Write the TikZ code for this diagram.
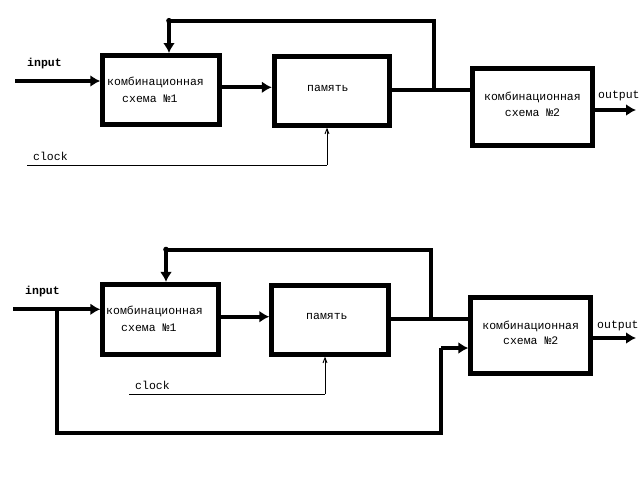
\documentclass[tikz,border=0pt]{standalone}
\usepackage{fontspec}
\setmonofont{Liberation Mono}
\usetikzlibrary{arrows.meta,calc}
\begin{document}
\begin{tikzpicture}[x=1pt,y=-1pt,
  blk/.style={draw,line width=5pt,rectangle,inner sep=0pt},
  wire/.style={line width=4pt},
  thk/.style={wire,-{Latex[length=10pt,width=12pt]}},
  clk/.style={line width=0.9pt,-{Straight Barb[length=5pt,width=4pt]}},
  txt/.style={font=\ttfamily\fontsize{11.5}{12}\selectfont,inner sep=0pt,anchor=west},
  lbl/.style={txt,font=\ttfamily\bfseries\fontsize{11.5}{12}\selectfont}]
\useasboundingbox (0,0) rectangle (640,480);

% ---------- top diagram ----------
\node[blk,minimum width=116.5pt,minimum height=69pt] (a1) at (161,90) {};
\node[blk,minimum width=115.5pt,minimum height=69pt] (a2) at (332,90.7) {};
\node[blk,minimum width=119.5pt,minimum height=76.5pt] (a3) at (532.5,107) {};

\node[txt] (a1t1) at (107,82.7) {комбинационная};
\node[txt] (a1t2) at (122,98.3) {схема №1};
\node[txt] (a2t) at (307,88.5) {память};
\node[txt,anchor=center] (a3t1) at (532.5,97) {комбинационная};
\node[txt,anchor=center] (a3t2) at (532.5,113) {схема №2};
\node[lbl] (ain) at (27,63.3) {input};
\node[txt] (aout) at (598,96) {output};
\node[txt] (aclk) at (33,156.7) {clock};

\coordinate (ainS) at (15,81);
\draw[thk] (ainS) -- (ainS -| a1.west);
\coordinate (a12) at (a1.east |- 0,87.3);
\draw[thk] (a12) -- (a12 -| a2.west);
\coordinate (a23) at (a2.east |- 0,90);
\draw[wire] (a23) -- (a23 -| a3.west);
\coordinate (afb) at (433.5,90);
\coordinate (afbT) at (169,20.7);
\draw[wire] (afb) -- (afb |- afbT) -- (afbT);
\draw[thk] (afbT) -- (afbT |- a1.north);
\fill (afbT) circle (2.8pt);
\coordinate (aoS) at (a3.east |- 0,110);
\coordinate (aoE) at (636,110);
\draw[thk] (aoS) -- (aoE);
\coordinate (aclkS) at (27,165);
\coordinate (aclkC) at (327,165);
\draw[line width=0.9pt] (aclkS) -- (aclkC);
\draw[clk] (aclkC) -- (aclkC |- a2.south);

% ---------- bottom diagram ----------
\node[blk,minimum width=115.3pt,minimum height=69.6pt] (b1) at (160.4,319.2) {};
\node[blk,minimum width=117pt,minimum height=68.8pt] (b2) at (330.3,319.8) {};
\node[blk,minimum width=119.8pt,minimum height=76.2pt] (b3) at (530.7,335.8) {};

\node[txt] (b1t1) at (106,311.7) {комбинационная};
\node[txt] (b1t2) at (121,327.3) {схема №1};
\node[txt] (b2t) at (306,316.7) {память};
\node[txt,anchor=center] (b3t1) at (530.7,326) {комбинационная};
\node[txt,anchor=center] (b3t2) at (530.7,340.7) {схема №2};
\node[lbl] (bin) at (25,292) {input};
\node[txt] (bout) at (597,326) {output};
\node[txt] (bclk) at (135,385.7) {clock};

\coordinate (binS) at (13,309.3);
\draw[thk] (binS) -- (binS -| b1.west);
\coordinate (b12) at (b1.east |- 0,316.7);
\draw[thk] (b12) -- (b12 -| b2.west);
\coordinate (b23) at (b2.east |- 0,319.3);
\draw[wire] (b23) -- (b23 -| b3.west);
\coordinate (bfb) at (431,319.3);
\coordinate (bfbT) at (166,249.5);
\draw[wire] (bfb) -- (bfb |- bfbT) -- (bfbT);
\draw[thk] (bfbT) -- (bfbT |- b1.north);
\fill (bfbT) circle (2.8pt);
\coordinate (bbr) at (57,309.3);
\coordinate (bbrB) at (57,432.5);
\coordinate (bbrR) at (441,432.5);
\coordinate (bbrU) at (441,348);
\draw[wire] (bbr) -- (bbrB) -- (bbrR) -- (bbrU);
\draw[thk] (bbrU) -- (bbrU -| b3.west);
\coordinate (boS) at (b3.east |- 0,338);
\coordinate (boE) at (636,338);
\draw[thk] (boS) -- (boE);
\coordinate (bclkS) at (129,394);
\coordinate (bclkC) at (325,394);
\draw[line width=0.9pt] (bclkS) -- (bclkC);
\draw[clk] (bclkC) -- (bclkC |- b2.south);
\end{tikzpicture}
\end{document}
